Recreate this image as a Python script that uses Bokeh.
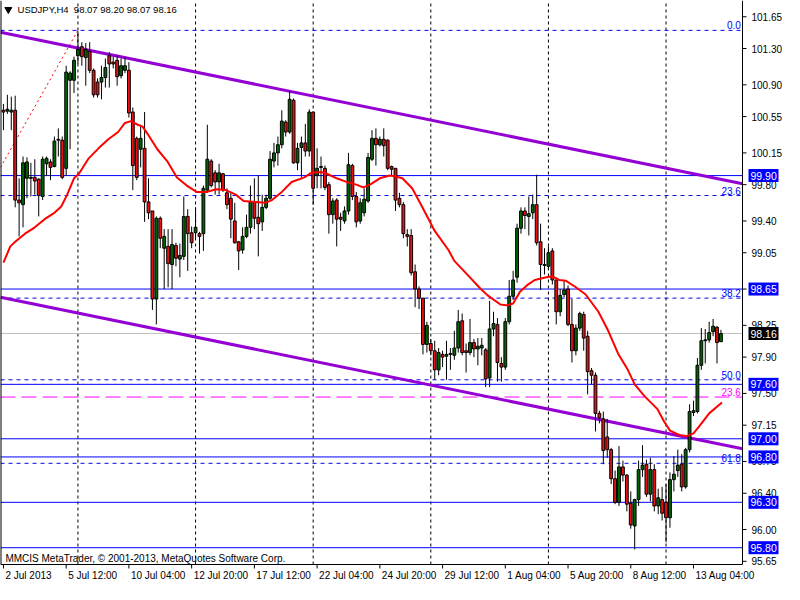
from bokeh.plotting import figure
from bokeh.models import Range1d, ColumnDataSource
from bokeh.core.properties import value
from bokeh.embed import file_html
from bokeh.resources import INLINE

# ---------------- data (USDJPY H4, bar index 0 = 2 Jul 2013 20:00) ----------------
opens = [100.62, 100.61, 100.60, 100.62, 99.63, 99.58, 99.87, 99.88, 99.88, 99.86,
         99.67, 100.03, 100.05, 100.00, 100.29, 100.29, 99.98, 100.95, 100.95, 101.22,
         101.32, 101.20, 101.27, 101.06, 100.93, 100.93, 100.98, 101.22, 101.15, 101.17,
         101.00, 101.06, 101.06, 100.60, 100.31, 100.19, 100.20, 99.61, 99.51, 98.54,
         99.43, 99.10, 99.12, 98.92, 99.13, 98.98, 99.01, 99.45, 99.27, 99.27,
         99.26, 99.26, 99.74, 100.06, 99.93, 99.83, 99.92, 99.71, 99.65, 99.40,
         99.17, 99.08, 99.23, 99.33, 99.61, 99.44, 99.39, 99.55, 99.65, 100.06,
         100.15, 100.24, 100.49, 100.38, 100.73, 100.04, 100.21, 100.26, 100.17, 100.60,
         99.90, 99.99, 99.98, 99.80, 99.47, 99.63, 99.44, 99.40, 99.51, 100.01,
         99.67, 99.40, 99.49, 99.62, 100.08, 100.31, 100.24, 100.30, 100.29, 100.00,
         99.98, 99.65, 99.58, 99.25, 99.24, 98.84, 98.65, 98.55, 98.04, 98.05,
         97.97, 97.76, 97.93, 97.91, 97.94, 97.92, 98.00, 98.30, 97.97, 97.95,
         98.06, 97.99, 98.00, 97.98, 97.67, 98.21, 98.26, 97.83, 97.79, 98.29,
         98.57, 98.78, 99.32, 99.51, 99.45, 99.49, 99.58, 99.17, 98.92, 98.90,
         99.07, 98.75, 98.40, 98.59, 98.65, 98.26, 97.97, 98.22, 98.37, 98.13,
         97.75, 97.70, 97.28, 97.22, 97.02, 96.88, 96.56, 96.30, 96.69, 96.60,
         96.29, 96.04, 96.33, 96.66, 96.72, 96.39, 96.66, 96.26, 96.33, 96.30,
         96.13, 96.55, 96.65, 96.72, 96.47, 96.88, 97.29, 97.30, 97.81, 98.08,
         98.09, 98.18, 98.23, 98.07]
highs = [100.69, 100.79, 100.77, 100.78, 99.87, 100.11, 100.10, 100.04, 100.08, 99.87,
         100.11, 100.11, 100.08, 100.33, 100.42, 100.33, 101.11, 101.05, 101.21, 101.49,
         101.37, 101.36, 101.37, 101.08, 100.97, 101.11, 101.19, 101.26, 101.21, 101.22,
         101.19, 101.20, 101.15, 100.65, 100.33, 100.46, 100.60, 99.87, 99.51, 99.45,
         99.45, 99.31, 99.31, 99.31, 99.16, 99.15, 99.67, 99.53, 99.34, 99.55,
         99.28, 99.79, 100.46, 100.08, 99.96, 100.03, 99.93, 99.76, 99.71, 99.60,
         99.18, 99.33, 99.47, 99.79, 99.87, 99.90, 99.69, 99.69, 100.17, 100.26,
         100.33, 100.62, 100.51, 100.83, 100.75, 100.26, 100.33, 100.47, 100.63, 100.60,
         100.20, 100.11, 100.01, 99.83, 99.65, 99.65, 99.49, 99.56, 100.15, 100.03,
         99.72, 99.65, 99.76, 100.15, 100.40, 100.42, 100.33, 100.42, 100.30, 100.01,
         99.98, 99.71, 99.61, 99.31, 99.31, 98.92, 98.68, 98.55, 98.29, 98.10,
         98.08, 98.00, 97.97, 98.08, 98.00, 98.19, 98.42, 98.38, 98.05, 98.32,
         98.10, 98.11, 98.11, 98.00, 98.52, 98.40, 98.33, 97.90, 98.33, 98.75,
         98.85, 99.37, 99.55, 99.55, 99.67, 99.69, 99.91, 99.37, 99.10, 99.12,
         99.10, 98.75, 98.65, 98.74, 98.69, 98.54, 98.26, 98.40, 98.40, 98.19,
         97.78, 97.73, 97.31, 97.30, 97.22, 96.90, 96.65, 96.92, 96.76, 96.61,
         96.42, 96.34, 96.76, 96.93, 96.77, 96.79, 96.72, 96.45, 96.47, 96.50,
         96.63, 96.81, 96.88, 96.83, 96.90, 97.38, 97.42, 97.89, 98.22, 98.21,
         98.29, 98.32, 98.24, 98.20]
lows = [100.40, 100.58, 100.40, 99.55, 99.23, 99.33, 99.65, 99.67, 99.69, 99.45,
        99.63, 99.90, 99.85, 99.99, 100.11, 99.86, 99.90, 100.19, 100.81, 101.13,
        101.11, 100.89, 101.03, 100.76, 100.76, 100.74, 100.87, 100.87, 101.08, 100.89,
        100.97, 101.03, 100.54, 99.74, 99.85, 99.99, 99.39, 99.42, 98.42, 98.26,
        99.10, 98.65, 98.67, 98.65, 98.90, 98.78, 98.97, 98.85, 99.10, 99.21,
        99.04, 99.07, 99.71, 99.77, 99.69, 99.69, 99.72, 99.53, 99.21, 99.15,
        98.86, 99.04, 99.21, 99.26, 99.31, 99.01, 99.29, 99.53, 99.63, 99.99,
        100.01, 100.20, 100.33, 100.36, 100.03, 99.96, 99.88, 100.11, 100.11, 99.58,
        99.76, 99.76, 99.74, 99.26, 99.37, 99.12, 99.29, 99.37, 99.47, 99.63,
        99.33, 99.37, 99.45, 99.60, 100.06, 100.01, 100.22, 100.11, 99.96, 99.90,
        99.51, 99.55, 99.21, 99.12, 98.80, 98.45, 98.43, 97.93, 97.95, 97.92,
        97.65, 97.70, 97.79, 97.65, 97.76, 97.87, 97.95, 97.92, 97.73, 97.92,
        97.90, 97.81, 97.92, 97.57, 97.57, 98.13, 97.63, 97.63, 97.76, 98.26,
        98.53, 98.72, 99.26, 99.31, 99.24, 99.42, 99.13, 98.64, 98.81, 98.87,
        98.70, 98.26, 98.35, 98.56, 98.24, 97.84, 97.92, 98.19, 97.97, 97.49,
        97.60, 97.08, 97.17, 96.72, 96.79, 96.50, 96.28, 96.26, 96.53, 96.20,
        96.01, 95.78, 96.26, 96.58, 96.36, 96.31, 96.20, 96.17, 96.10, 95.86,
        96.02, 96.42, 96.58, 96.42, 96.45, 96.85, 97.25, 97.28, 97.76, 97.83,
        98.06, 98.13, 97.83, 98.07]
closes = [100.60, 100.63, 100.62, 99.63, 99.60, 100.04, 100.05, 99.87, 99.84, 99.68,
          100.08, 100.09, 99.99, 100.28, 100.30, 99.88, 101.04, 101.03, 101.17, 101.29,
          101.21, 101.29, 101.06, 100.79, 100.79, 100.98, 101.09, 101.13, 101.13, 100.99,
          101.11, 101.11, 100.59, 100.01, 99.88, 100.31, 99.61, 99.49, 98.54, 99.43,
          99.21, 99.23, 98.93, 99.14, 98.99, 99.02, 99.45, 99.26, 99.16, 99.33,
          99.23, 99.76, 100.08, 99.79, 99.83, 99.93, 99.74, 99.58, 99.42, 99.16,
          99.07, 99.23, 99.33, 99.61, 99.43, 99.37, 99.55, 99.65, 100.08, 100.15,
          100.24, 100.50, 100.38, 100.74, 100.04, 100.20, 100.26, 100.17, 100.60, 99.76,
          99.98, 100.00, 99.77, 99.47, 99.62, 99.42, 99.42, 99.51, 100.02, 99.67,
          99.39, 99.60, 99.64, 100.10, 100.31, 100.24, 100.30, 100.23, 99.98, 99.97,
          99.63, 99.58, 99.26, 99.23, 98.83, 98.65, 98.55, 98.04, 98.25, 97.97,
          97.76, 97.95, 97.90, 97.93, 97.93, 98.00, 98.29, 97.95, 97.95, 98.06,
          97.99, 98.02, 98.03, 97.66, 98.21, 98.27, 97.84, 97.79, 98.29, 98.57,
          98.75, 99.32, 99.51, 99.46, 99.48, 99.58, 99.16, 98.92, 98.91, 99.05,
          98.75, 98.40, 98.58, 98.64, 98.26, 97.97, 98.22, 98.38, 98.11, 97.74,
          97.70, 97.28, 97.23, 96.87, 96.88, 96.56, 96.30, 96.69, 96.60, 96.28,
          96.05, 96.33, 96.66, 96.71, 96.39, 96.66, 96.26, 96.35, 96.18, 96.13,
          96.55, 96.61, 96.71, 96.47, 96.88, 97.30, 97.31, 97.81, 98.08, 98.09,
          98.17, 98.24, 98.06, 98.16]
bars = list(range(len(opens)))

# moving average
ma_bars = [0, 1.75, 3, 5.5, 8, 10.5, 13, 14.75, 16.25, 18, 19.25, 21.75, 24.25, 26.75, 29.25,
           31, 32.5, 34.25, 35.5, 36.75, 39.25, 41.75, 44.25, 46.75, 49.25, 51.75, 54.25,
           56.75, 59.25, 61.25, 64.25, 66.75, 68.5, 71, 73.5, 76.75, 78.5, 81, 82.5, 85,
           87.5, 90, 91.75, 93.5, 96, 98.5, 100, 101.75, 104.25, 106.75, 110, 113.5, 115,
           118.5, 121.75, 123.5, 126.75, 128.5, 130, 131.75, 133.5, 135.5, 138.5, 140,
           141.75, 143.5, 146, 148.5, 151.75, 154.25, 156.75, 159.25, 161, 163.5, 166.75,
           168.5, 170, 172.5, 174.25, 176, 177.5, 180, 183.25]
ma_vals = [98.94, 99.12, 99.17, 99.26, 99.33, 99.42, 99.49, 99.56, 99.69, 99.87, 99.92,
           100.09, 100.20, 100.30, 100.38, 100.48, 100.50, 100.46, 100.44, 100.36, 100.19,
           100.06, 99.88, 99.79, 99.72, 99.72, 99.75, 99.74, 99.69, 99.62, 99.61, 99.60,
           99.63, 99.72, 99.83, 99.88, 99.93, 99.94, 99.92, 99.87, 99.83, 99.80, 99.77,
           99.80, 99.87, 99.90, 99.89, 99.87, 99.76, 99.56, 99.29, 99.08, 98.96, 98.80,
           98.65, 98.58, 98.48, 98.47, 98.49, 98.62, 98.69, 98.75, 98.78, 98.79, 98.75,
           98.74, 98.67, 98.59, 98.40, 98.19, 97.94, 97.76, 97.60, 97.47, 97.33, 97.19,
           97.09, 97.04, 97.03, 97.06, 97.14, 97.28, 97.40]

# trend channel and fibo ray
line_bars = [-0.75, 188.5]
upper_channel = [101.48, 99.81]
lower_channel = [98.56, 96.89]
fibo_ray_bars = [-0.75, 19]
fibo_ray_prices = [99.99, 101.50]

# levels
solid_levels = [99.90, 98.65, 97.60, 97.00, 96.80, 96.30, 95.80]
fibo_levels = [101.50, 99.68, 98.55, 97.65, 96.73]
fibo_names = ["0.0", "23.6", "38.2", "50.0", "61.8"]
fibo2_level = 97.46
fibo2_name = "23.6"
last_price = 98.16
title_text = "USDJPY,H4\u00a0\u00a098.07 98.20 98.07 98.16"
footer_text = "MMCIS MetaTrader, \u00a9 2001-2013, MetaQuotes Software Corp."

tick_bars = [0, 16, 32, 48, 64, 80, 96, 112, 128, 144, 160, 176]
tick_labels = ["2 Jul 2013", "5 Jul 12:00", "10 Jul 04:00", "12 Jul 20:00", "17 Jul 12:00",
               "22 Jul 04:00", "24 Jul 20:00", "29 Jul 12:00", "1 Aug 04:00", "5 Aug 20:00",
               "8 Aug 12:00", "13 Aug 04:00"]
grid_bars = [19, 49, 79, 109, 139, 169]
price_ticks = [101.65, 101.30, 100.90, 100.55, 100.15, 99.80, 99.40, 99.05, 98.65, 98.25,
               97.90, 97.50, 97.15, 96.75, 96.40, 96.00, 95.65]

# ---------------- layout constants ----------------
W, H = 784, 584
X0, XE = -0.75, 188.5          # chart area in bars
YB, YT = 95.615, 101.829       # chart area in price
CW, CH = 742.0, 564.0          # chart area in px
PXX = CW / (XE - X0)           # px per bar
PXY = (YT - YB) / CH           # price per px
FONT = value("Liberation Sans")
FS = "10px"

p = figure(width=W, height=H, output_backend="svg", toolbar_location=None,
           x_range=Range1d(X0, X0 + W / PXX), y_range=Range1d(YT - H * PXY, YT),
           x_axis_location=None, y_axis_location=None, min_border=0)
p.outline_line_color = None
p.background_fill_color = "white"
p.border_fill_color = "white"
p.xgrid.visible = False
p.ygrid.visible = False

# vertical dashed grid
p.segment(x0=grid_bars, y0=[YB] * len(grid_bars), x1=grid_bars, y1=[YT] * len(grid_bars),
          line_color="black", line_width=1, line_dash="3 3")

# horizontal levels
n = len(solid_levels)
p.segment(x0=[X0] * n, y0=solid_levels, x1=[XE] * n, y1=solid_levels,
          line_color="#0000ff", line_width=1)
n = len(fibo_levels)
p.segment(x0=[X0] * n, y0=fibo_levels, x1=[XE] * n, y1=fibo_levels,
          line_color="#0000ff", line_width=1, line_dash="4 4")
p.segment(x0=[X0], y0=[fibo2_level], x1=[XE], y1=[fibo2_level],
          line_color="#ff00ff", line_width=1, line_dash="15 6")
p.segment(x0=[X0], y0=[last_price], x1=[XE], y1=[last_price],
          line_color="#c0c0c0", line_width=1)

# fibo ray and channel
p.line(fibo_ray_bars, fibo_ray_prices, line_color="red", line_width=1, line_dash="2 3")
p.line(line_bars, upper_channel, line_color="#9400D3", line_width=3)
p.line(line_bars, lower_channel, line_color="#9400D3", line_width=3)

# candles
colors = ["#006400" if c > o else "#e81010" for o, c in zip(opens, closes)]
src = ColumnDataSource(dict(x=bars, h=highs, l=lows,
                            top=[max(o, c) for o, c in zip(opens, closes)],
                            bottom=[min(o, c) for o, c in zip(opens, closes)],
                            color=colors))
p.segment(x0="x", y0="h", x1="x", y1="l", source=src, line_color="black", line_width=1)
p.vbar(x="x", width=0.72, top="top", bottom="bottom", fill_color="color",
       line_color="black", line_width=1, source=src)

# moving average
p.line(ma_bars, ma_vals, line_color="#ff0000", line_width=2)

# fibo labels
p.text(x=[XE - 0.4] * len(fibo_levels), y=[v + 1 * PXY for v in fibo_levels], text=fibo_names,
       text_align="right", text_baseline="bottom", text_color="#0000ff",
       text_font=FONT, text_font_size=FS)
p.text(x=[XE - 0.4], y=[fibo2_level + 1 * PXY], text=[fibo2_name], text_align="right",
       text_baseline="bottom", text_color="#ff00ff", text_font=FONT, text_font_size=FS)

# chart frame (left, right, bottom)
p.segment(x0=[X0, XE, X0], y0=[YB, YB, YB], x1=[X0, XE, XE], y1=[YT, YT, YB],
          line_color="black", line_width=[2, 1, 1])

# right price axis
m = len(price_ticks)
p.segment(x0=[XE] * m, y0=price_ticks, x1=[XE + 4 / PXX] * m, y1=price_ticks,
          line_color="black", line_width=1)
p.text(x=[XE + 9 / PXX] * m, y=price_ticks, text=["%.2f" % v for v in price_ticks],
       text_align="left", text_baseline="middle", text_color="black",
       text_font=FONT, text_font_size=FS)

# bottom time axis
k = len(tick_bars)
p.segment(x0=tick_bars, y0=[YB] * k, x1=tick_bars, y1=[YB - 4 * PXY] * k,
          line_color="black", line_width=1)
p.text(x=[b + 2 / PXX for b in tick_bars], y=[YB - 5 * PXY] * k, text=tick_labels,
       text_align="left", text_baseline="top", text_color="black",
       text_font=FONT, text_font_size=FS)

# price boxes on the axis
box_levels = solid_levels + [last_price]
box_colors = ["#0000ff"] * len(solid_levels) + ["black"]
nb = len(box_levels)
p.quad(left=[XE + 6 / PXX] * nb, right=[XE + 36 / PXX] * nb,
       bottom=[v - 6.5 * PXY for v in box_levels], top=[v + 6.5 * PXY for v in box_levels],
       fill_color=box_colors, line_color=None)
p.text(x=[XE + 8 / PXX] * nb, y=box_levels, text=["%.2f" % v for v in box_levels],
       text_align="left", text_baseline="middle", text_color="white",
       text_font=FONT, text_font_size="10.5px")

# title & footer
p.scatter([1.25], [YT - 9 * PXY], marker="inverted_triangle", size=7, color="black")
p.text(x=[3.6], y=[YT - 9 * PXY], text=[title_text], text_baseline="middle",
       text_align="left", text_color="black", text_font=FONT, text_font_size="9.5px")
p.text(x=[0.5], y=[YB + 6 * PXY], text=[footer_text], text_baseline="middle",
       text_align="left", text_color="black", text_font=FONT, text_font_size=FS)

open("out.html", "w").write(file_html(p, INLINE))
